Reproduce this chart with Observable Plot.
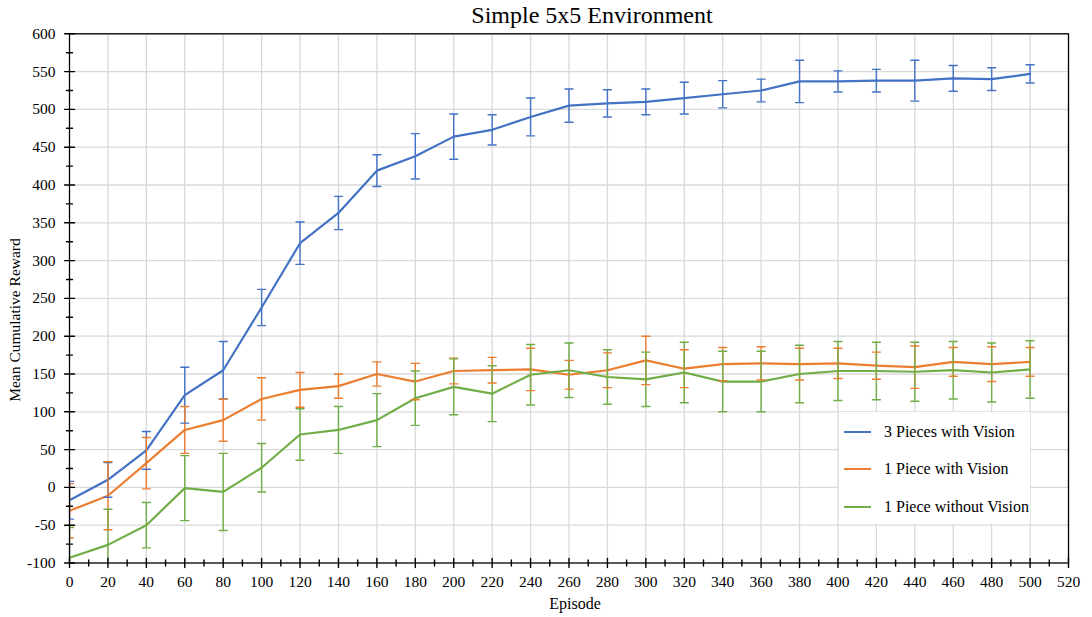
<!DOCTYPE html>
<html><head><meta charset="utf-8">
<script src="https://cdn.jsdelivr.net/npm/d3@7"></script>
<script src="https://cdn.jsdelivr.net/npm/@observablehq/plot@0.6"></script>
<style>
body{margin:0;background:#fff;}
#wrap{position:relative;width:1092px;height:617px;overflow:hidden;font-family:"Liberation Serif","Times New Roman",serif;color:#000;}
#title{position:absolute;left:0;top:0;width:1092px;height:28px;box-sizing:border-box;padding-top:3px;padding-left:92px;font-size:24px;line-height:24px;text-align:center;white-space:nowrap;font-family:"Liberation Serif",serif;}
#chart svg{display:block;}
#chart svg text{font-family:"Liberation Serif","Times New Roman",serif !important;}
#ylabel{position:absolute;left:15px;top:320px;transform:translate(-50%,-50%) rotate(-90deg);font-size:15.5px;white-space:nowrap;line-height:1;font-family:"Liberation Serif",serif;}
#xlabel{position:absolute;left:475px;width:200px;top:595.6px;text-align:center;font-size:16px;line-height:16px;font-family:"Liberation Serif",serif;}
#legend{position:absolute;left:839px;top:412px;width:191px;height:112px;background:#fff;font-family:"Liberation Serif",serif;}
.row{position:absolute;left:0;height:20px;display:flex;align-items:center;white-space:nowrap;font-size:16px;}
.sw{margin-left:5px;width:27px;height:2px;}
.lt{margin-left:13px;}
</style>
</head><body>
<div id="wrap">
  <div id="chart"></div>
  <div id="title">Simple 5x5 Environment</div>
  <div id="ylabel">Mean Cumulative Reward</div>
  <div id="xlabel">Episode</div>
  <div id="legend"></div>
</div>
<script>
const episodes = [0,20,40,60,80,100,120,140,160,180,200,220,240,260,280,300,320,340,360,380,400,420,440,460,480,500];
const seriesNames = ["3 Pieces with Vision","1 Piece with Vision","1 Piece without Vision"];
const seriesColors = ["#4472C4","#ED7D31","#70AD47"];
const blueMean = [-17,10,49,122,155,238,323,363,419,438,464,473,490,505,508,510,515,520,525,537,537,538,538,541,540,547];
const blueErr  = [25,23,25,37,38,24,28,22,21,30,30,20,25,22,18,17,21,18,15,28,14,15,27,17,15,12];
const orangeMean = [-31,-11,32,76,89,117,129,134,150,140,154,155,156,149,155,168,157,163,164,163,164,161,159,166,163,166];
const orangeErr  = [36,45,34,31,28,28,23,16,16,24,17,17,28,19,23,32,25,22,22,21,20,18,28,19,23,19];
const greenMean = [-93,-76,-50,-1,-6,26,70,76,89,118,133,124,149,155,146,143,152,140,140,150,154,154,153,155,152,156];
const greenErr  = [40,47,30,43,51,32,34,31,35,36,37,37,40,36,36,36,40,40,40,38,39,38,39,38,39,38];
const xTicks = [0,20,40,60,80,100,120,140,160,180,200,220,240,260,280,300,320,340,360,380,400,420,440,460,480,500,520];
const xMinor = [10,30,50,70,90,110,130,150,170,190,210,230,250,270,290,310,330,350,370,390,410,430,450,470,490,510];
const yTicks = [-100,-50,0,50,100,150,200,250,300,350,400,450,500,550,600];
const yMinor = [-75,-25,25,75,125,175,225,275,325,375,425,475,525,575];

const means = [blueMean, orangeMean, greenMean];
const errs = [blueErr, orangeErr, greenErr];
const data = seriesNames.flatMap((name, s) => episodes.map((x, i) => ({
  series: name, x, y: means[s][i], lo: means[s][i] - errs[s][i], hi: means[s][i] + errs[s][i]
})));

const lineShape = {draw(context, l) { context.moveTo(0, 0); context.lineTo(0, -l); }};
const serif = '"Liberation Serif","Times New Roman",serif';

const chart = Plot.plot({
  width: 1092, height: 617,
  marginTop: 33.3, marginBottom: 54.5, marginLeft: 69, marginRight: 24,
  x: {domain: [0, 520]},
  y: {domain: [-100, 600]},
  color: {domain: seriesNames, range: seriesColors},
  style: {fontFamily: serif, fontSize: "15.5px", color: "black", background: "transparent"},
  marks: [
    Plot.gridX(xTicks.slice(1), {stroke: "#d9d9d9", strokeOpacity: 1, strokeWidth: 1.3}),
    Plot.gridY(yTicks.slice(1), {stroke: "#d9d9d9", strokeOpacity: 1, strokeWidth: 1.3}),
    Plot.line(data, {x: "x", y: "y", z: "series", stroke: "series", strokeWidth: 2.2, clip: true}),
    Plot.ruleX(data, {x: "x", y1: "lo", y2: "hi", stroke: "series", strokeWidth: 1.4, clip: true}),
    Plot.vector(data, {x: "x", y: "lo", length: 8, rotate: 90, anchor: "middle", shape: lineShape, stroke: "series", strokeWidth: 1.4, clip: true}),
    Plot.vector(data, {x: "x", y: "hi", length: 8, rotate: 90, anchor: "middle", shape: lineShape, stroke: "series", strokeWidth: 1.4, clip: true}),
    Plot.frame({stroke: "black", strokeWidth: 1.3}),
    Plot.vector(xTicks, {x: d => d, frameAnchor: "bottom", length: 9, anchor: "middle", shape: lineShape, stroke: "black", strokeWidth: 1.4}),
    Plot.vector(xMinor, {x: d => d, frameAnchor: "bottom", length: 6, anchor: "middle", shape: lineShape, stroke: "black", strokeWidth: 1.4}),
    Plot.vector(yTicks, {y: d => d, frameAnchor: "left", length: 10, rotate: 90, anchor: "middle", shape: lineShape, stroke: "black", strokeWidth: 1.4}),
    Plot.vector(yMinor, {y: d => d, frameAnchor: "left", length: 6, rotate: 90, anchor: "middle", shape: lineShape, stroke: "black", strokeWidth: 1.4}),
    Plot.axisX(xTicks, {tickSize: 0, tickPadding: 13, tickFormat: d => String(d), fontSize: 15.5, fontFamily: serif, label: null}),
    Plot.axisY(yTicks, {tickSize: 0, tickPadding: 14, tickFormat: d => String(d), fontSize: 15.5, fontFamily: serif, label: null})
  ]
});
document.getElementById("chart").appendChild(chart);

const legend = document.getElementById("legend");
const rowCenters = [19.7, 57, 94.7];
seriesNames.forEach((name, i) => {
  const row = document.createElement("div");
  row.className = "row";
  row.style.top = (rowCenters[i] - 10) + "px";
  const sw = document.createElement("div");
  sw.className = "sw";
  sw.style.background = seriesColors[i];
  const lt = document.createElement("span");
  lt.className = "lt";
  lt.textContent = name;
  row.appendChild(sw); row.appendChild(lt);
  legend.appendChild(row);
});
</script>
</body></html>
